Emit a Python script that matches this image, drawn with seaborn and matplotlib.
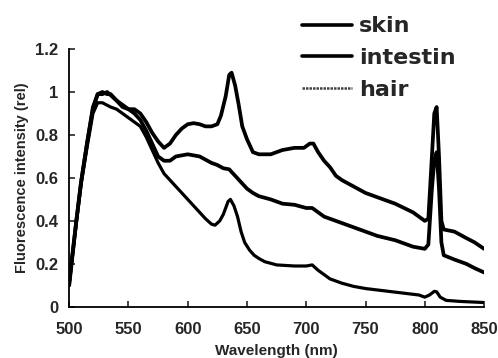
import pandas as pd
import numpy as np
import seaborn as sns
import matplotlib.pyplot as plt

# values
skin_wl = [500, 503, 506, 510, 515, 520, 524, 528, 532, 535, 540, 545, 550, 555, 560, 565, 570,
           575, 580, 585, 590, 595, 600, 605, 610, 615, 620, 625, 628, 632, 635, 637, 640, 643,
           646, 650, 655, 660, 665, 670, 680, 690, 698, 703, 706, 710, 715, 720, 725, 730, 740,
           750, 760, 775, 790, 800, 803, 806, 808, 810, 812, 814, 816, 825, 835, 842, 850]
skin_val = [0.10, 0.25, 0.40, 0.58, 0.76, 0.93, 0.99, 1.0, 0.99, 0.99, 0.96, 0.93, 0.92, 0.92,
            0.90, 0.86, 0.81, 0.77, 0.74, 0.76, 0.80, 0.83, 0.85, 0.855, 0.85, 0.84, 0.84, 0.85,
            0.89, 0.98, 1.08, 1.09, 1.03, 0.94, 0.84, 0.78, 0.72, 0.71, 0.71, 0.71, 0.73, 0.74,
            0.74, 0.76, 0.76, 0.72, 0.68, 0.65, 0.61, 0.59, 0.56, 0.53, 0.51, 0.48, 0.44, 0.40,
            0.41, 0.70, 0.90, 0.93, 0.70, 0.40, 0.36, 0.35, 0.32, 0.30, 0.27]

intestin_wl = [500, 503, 506, 510, 515, 520, 524, 528, 532, 536, 540, 545, 550, 555, 560, 565,
               570, 575, 580, 585, 590, 600, 610, 620, 625, 630, 635, 640, 645, 650, 655, 660,
               670, 680, 690, 700, 705, 710, 715, 725, 740, 750, 760, 775, 790, 800, 803, 806,
               808, 810, 812, 814, 816, 825, 835, 842, 850]
intestin_val = [0.12, 0.26, 0.40, 0.58, 0.76, 0.92, 0.99, 0.99, 1.0, 0.98, 0.96, 0.94, 0.92,
                0.90, 0.87, 0.82, 0.76, 0.70, 0.68, 0.68, 0.70, 0.71, 0.70, 0.67, 0.66, 0.645,
                0.64, 0.61, 0.58, 0.55, 0.53, 0.515, 0.50, 0.48, 0.475, 0.46, 0.46, 0.44, 0.42,
                0.40, 0.37, 0.35, 0.33, 0.31, 0.28, 0.27, 0.29, 0.55, 0.68, 0.72, 0.55, 0.30,
                0.24, 0.22, 0.20, 0.18, 0.16]

hair_wl = [500, 503, 506, 510, 515, 520, 524, 528, 535, 540, 545, 550, 555, 560, 565, 570, 575,
           580, 585, 590, 595, 600, 605, 610, 615, 620, 623, 627, 630, 634, 636, 639, 642, 645,
           648, 652, 656, 660, 665, 675, 690, 700, 705, 710, 715, 720, 730, 740, 750, 765, 780,
           795, 800, 804, 808, 810, 813, 818, 830, 850]
hair_val = [0.10, 0.25, 0.39, 0.57, 0.74, 0.90, 0.95, 0.95, 0.93, 0.92, 0.90, 0.88, 0.86, 0.84,
            0.79, 0.73, 0.67, 0.62, 0.59, 0.56, 0.53, 0.50, 0.47, 0.44, 0.41, 0.385, 0.38, 0.40,
            0.43, 0.49, 0.50, 0.47, 0.42, 0.35, 0.30, 0.265, 0.24, 0.225, 0.21, 0.195, 0.19,
            0.19, 0.195, 0.17, 0.15, 0.13, 0.11, 0.095, 0.085, 0.075, 0.065, 0.055, 0.045,
            0.055, 0.072, 0.07, 0.045, 0.03, 0.025, 0.02]

series = ["skin", "intestin", "hair"]

df = pd.concat([
    pd.DataFrame({"wl": skin_wl, "val": skin_val, "sample": "skin"}),
    pd.DataFrame({"wl": intestin_wl, "val": intestin_val, "sample": "intestin"}),
    pd.DataFrame({"wl": hair_wl, "val": hair_val, "sample": "hair"}),
])

sns.set_style("ticks")
plt.rcParams["font.family"] = ["Liberation Sans", "DejaVu Sans"]

fig = plt.figure(figsize=(4.98, 3.58), dpi=100)
ax = fig.add_axes([0.139, 0.143, 0.833, 0.72])

sns.lineplot(data=df, x="wl", y="val", hue="sample", hue_order=series,
             palette=["black", "black", "black"], size="sample",
             sizes={"skin": 2.7, "intestin": 2.7, "hair": 2.3}, size_order=series,
             estimator=None, sort=False, ax=ax, legend=False)

ax.set_xlim(500, 850)
ax.set_ylim(0, 1.2)
ax.set_xticks(np.arange(500, 851, 50))
ax.set_yticks([0, 0.2, 0.4, 0.6, 0.8, 1, 1.2])
ax.set_yticklabels(["0", "0.2", "0.4", "0.6", "0.8", "1", "1.2"])
ax.tick_params(direction="in", length=4, width=1.2, labelsize=12)
ax.tick_params(axis="x", pad=11)
ax.tick_params(axis="y", pad=8)
for lab in ax.get_xticklabels() + ax.get_yticklabels():
    lab.set_fontweight("bold")

ax.set_xlabel("Wavelength (nm)", fontsize=11, fontweight="bold", labelpad=5)
ax.set_ylabel("Fluorescence intensity (rel)", fontsize=10.5, fontweight="bold", labelpad=4)

sns.despine(ax=ax)
for s in ["left", "bottom"]:
    ax.spines[s].set_linewidth(1.3)
    ax.spines[s].set_color("black")

# legend sits above the plot, top right
handles = [plt.Line2D([], [], color="black", lw=2.6),
           plt.Line2D([], [], color="black", lw=2.6),
           plt.Line2D([], [], color="#444444", lw=1.8, ls=(0, (1, 0.4)))]
fig.legend(handles, series, loc="upper left", bbox_to_anchor=(0.566, 1.01),
           frameon=False, handlelength=2.25, handletextpad=0.32, labelspacing=0.52,
           prop={"family": "DejaVu Sans", "weight": "bold", "size": 16})

plt.savefig("out.png", dpi=100)
